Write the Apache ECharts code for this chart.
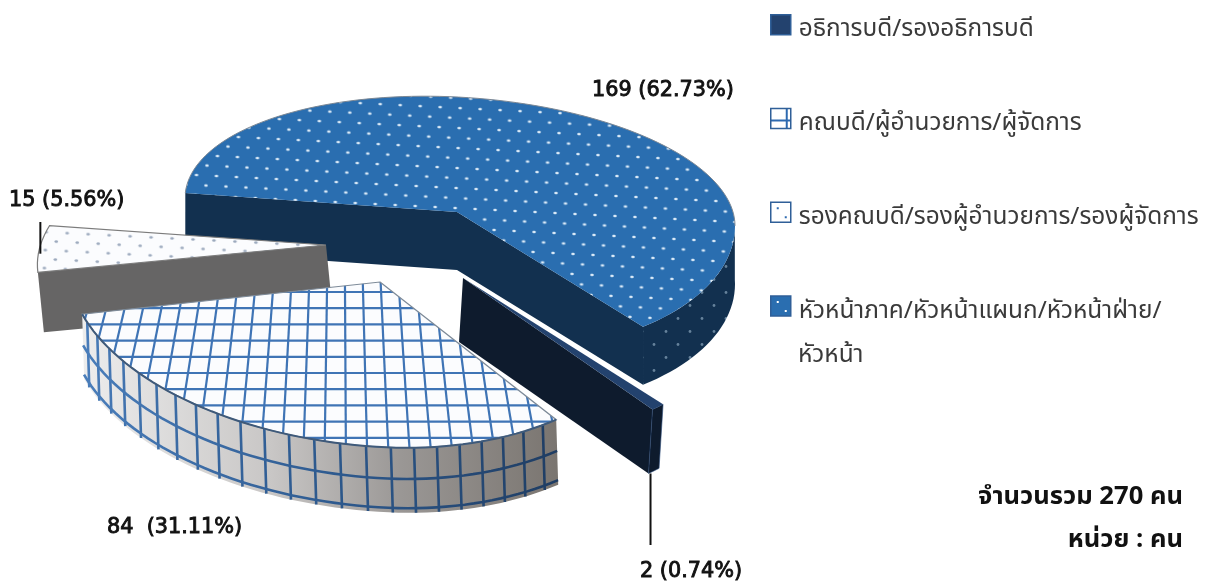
<!DOCTYPE html>
<html>
<head>
<meta charset="utf-8">
<style>
  html, body { margin: 0; padding: 0; background: #fff; }
  #chart { width: 1207px; height: 582px; }
</style>
<script src="https://cdn.jsdelivr.net/npm/echarts@6/dist/echarts.min.js"></script>
</head>
<body>
<div id="chart"></div>
<script>
const categories = ['อธิการบดี/รองอธิการบดี', 'คณบดี/ผู้อำนวยการ/ผู้จัดการ', 'รองคณบดี/รองผู้อำนวยการ/รองผู้จัดการ', 'หัวหน้าภาค/หัวหน้าแผนก/หัวหน้าฝ่าย/'];
const categoryExtraLine = 'หัวหน้า';
const values = [2, 84, 15, 169];
const percents = ['0.74', '31.11', '5.56', '62.73'];
const startAngle = 138;
const total = values.reduce((a, b) => a + b, 0);

const FONT = '"Noto Sans Thai","Noto Sans","Noto Sans CJK SC",sans-serif';
const LABEL_FONT = '20.8px "DejaVu Sans",sans-serif';

// each exploded slice was warped on its own in the picture, so each gets its own projection
const views = [
  { cx: 463, cy: 278, rxL: 299, rxR: 299, ryT: 170, ryB: 170, kx: 0, sh: 0, depth: 64, ddx: -4 },
  { cx: 380, cy: 282, rxL: 312, rxR: 278, ryT: 165, ryB: 165, kx: 0, sh: 0.057, depth: 65, ddx: 2 },
  { cx: 326, cy: 245, rxL: 280, rxR: 280, ryT: 137, ryB: 137, kx: -70, sh: 0.047, depth: 60, ddx: 6 },
  { cx: 457, cy: 212, rxL: 272, rxR: 278, ryT: 115, ryB: 142, kx: 0, sh: 0.05, depth: 58, ddx: 0 }
];

function dotTile(bg, dot, w, h, rx, ry) {
  const c = document.createElement('canvas');
  c.width = w; c.height = h;
  const g = c.getContext('2d');
  g.fillStyle = bg; g.fillRect(0, 0, w, h);
  g.fillStyle = dot;
  [[w / 4, h / 4], [w * 3 / 4, h * 3 / 4]].forEach(p => {
    g.beginPath(); g.ellipse(p[0], p[1], rx, ry, 0, 0, Math.PI * 2); g.fill();
  });
  return c;
}
function iconTile(bg, draw) {
  const c = document.createElement('canvas');
  c.width = 20; c.height = 20;
  const g = c.getContext('2d');
  g.fillStyle = bg; g.fillRect(0, 0, 20, 20);
  draw(g);
  return c;
}
const blueDots = { image: dotTile('#2a6eb0', '#dcebf8', 20, 20, 1.8, 1.2), repeat: 'repeat', rotation: 0.05 };
const wallDots = { image: dotTile('#12304f', '#66829b', 24, 26, 1.4, 1.4), repeat: 'repeat' };
const whiteDots = { image: dotTile('#fbfcfe', '#9aa8bc', 21, 18, 1.8, 1.2), repeat: 'repeat', rotation: 0.05 };

const legendIcons = [
  '#23426e',
  { image: iconTile('#fff', g => { g.fillStyle = '#2e6ab0'; g.fillRect(0, 11, 20, 2); g.fillRect(15, 0, 2, 20); }), repeat: 'no-repeat' },
  { image: iconTile('#fff', g => { g.fillStyle = '#2e6ab0'; g.fillRect(6, 5, 2, 2); g.fillRect(14, 14, 2, 2); }), repeat: 'no-repeat' },
  { image: iconTile('#2a6eb0', g => { g.fillStyle = '#fff'; g.fillRect(6, 5, 2, 2); g.fillRect(14, 14, 2, 2); }), repeat: 'no-repeat' }
];

// angle in degrees, clockwise from the back of the pie
function project(v, deg, down) {
  const a = deg * Math.PI / 180;
  const u = Math.sin(a), w = -Math.cos(a);
  const dx = (u < 0 ? v.rxL : v.rxR) * u + v.kx * w;
  const dy = (w < 0 ? v.ryT : v.ryB) * w + v.sh * dx;
  const d = down || 0;
  return [v.cx + dx + v.ddx * d, v.cy + dy + v.depth * d];
}
function arc(v, a1, a2, down) {
  const n = Math.max(2, Math.ceil(Math.abs(a2 - a1) / 2));
  const pts = [];
  for (let i = 0; i <= n; i++) pts.push(project(v, a1 + (a2 - a1) * i / n, down));
  return pts;
}
function poly(points, style) {
  return { type: 'polygon', shape: { points }, style };
}
function line(points, stroke, lineWidth) {
  return { type: 'polyline', shape: { points }, style: { stroke, lineWidth, fill: null }, silent: true };
}
function wallBetween(v, p, q) {
  const down = r => [r[0] + v.ddx, r[1] + v.depth];
  return [p, q, down(q), down(p)];
}
function labelEl(text, x, y) {
  return { type: 'text', style: { text, x, y, fill: '#111', stroke: '#111', lineWidth: 0.9, font: LABEL_FONT, textAlign: 'left', textVerticalAlign: 'middle' } };
}

const spans = [];
values.reduce((from, val) => {
  const to = from + val / total * 360;
  spans.push([from, to]);
  return to;
}, startAngle);

function sliceTop(v, a1, a2) {
  return [[v.cx, v.cy]].concat(arc(v, a1, a2));
}

function drawDark(i) {
  const v = views[i], [a1, a2] = spans[i];
  const apex = [v.cx, v.cy], end = project(v, a2);
  const dn = project(v, a2, 1);
  return [
    poly(wallBetween(v, apex, end), { fill: '#0e1b2d' }),
    poly(arc(v, a2, a1).concat(arc(v, a1, a2, 1)), { fill: '#0e1b2d', stroke: '#2a4a78', lineWidth: 0.6 }),
    poly(sliceTop(v, a1, a2), { fill: '#23426e' }),
    line([[dn[0] + 2, dn[1]], [dn[0] + 2, 545]], '#111', 2),
    labelEl(`${values[i]} (${percents[i]}%)`, 640, 572)
  ];
}

function drawGrid(i) {
  const v = views[i], [a1, a2] = spans[i];
  const top = sliceTop(v, a1, a2);
  const gridLines = [];
  const vx = 340, vy = -600;
  for (let y = 292; y < 470; y += 16.2) gridLines.push(line([[60, y], [580, y]], '#3f74b5', 2.2));
  for (let k = -20; k <= 16; k++) {
    const x0 = vx + k * 18 + 5;
    const at = y => vx + (x0 - vx) * (y - vy) / (290 - vy);
    gridLines.push(line([[at(270), 270], [at(470), 470]], '#3f74b5', 2.2));
  }
  const wall = arc(v, a2, a1).concat(arc(v, a1, a2, 1));
  const wallLines = [];
  const tint = t => echarts.color.lerp(t, ['#4a7ebb', '#2f5c92', '#1f3d63']);
  for (let a = a1 + 3.5; a < a2; a += 4.8) {
    wallLines.push(line([project(v, a), project(v, a, 1)], tint(1 - (a - a1) / (a2 - a1)), 2.6));
  }
  const strokeGrad = new echarts.graphic.LinearGradient(80, 0, 556, 0,
    [{ offset: 0, color: '#4a7ebb' }, { offset: 0.5, color: '#2f5c92' }, { offset: 1, color: '#1f3d63' }], true);
  [0.48, 0.93].forEach(f => wallLines.push(line(arc(v, a1, a2, f), strokeGrad, 2.6)));
  return [
    poly(wall, {
      fill: new echarts.graphic.LinearGradient(0, 0, 1, 0, [
        { offset: 0, color: '#ededed' }, { offset: 0.4, color: '#c8c6c5' },
        { offset: 0.67, color: '#9a9795' }, { offset: 1, color: '#7a7570' }])
    }),
    { type: 'group', children: wallLines },
    poly(top, { fill: '#fbfcfe' }),
    { type: 'group', children: gridLines, clipPath: { type: 'polygon', shape: { points: top } } },
    poly(top, { fill: 'none', stroke: '#7d8a98', lineWidth: 1.2 }),
    line(arc(v, a1, a2), '#3f5a7a', 2),
    labelEl(`${values[i]}  (${percents[i]}%)`, 107, 528)
  ];
}

function drawWhite(i) {
  const v = views[i], [a1, a2] = spans[i];
  const apex = [v.cx, v.cy], corner = project(v, a1);
  const lead = project(v, a1 + 8);
  return [
    poly(wallBetween(v, apex, corner), { fill: '#666565' }),
    poly(sliceTop(v, a1, a2), { fill: whiteDots, stroke: '#7c7c7c', lineWidth: 1.2 }),
    line([[lead[0] + 2, lead[1]], [lead[0] + 2, 222]], '#111', 2),
    labelEl(`${values[i]} (${percents[i]}%)`, 9, 201)
  ];
}

function drawBlue(i) {
  const v = views[i], [a1, a2] = spans[i];
  const apex = [v.cx, v.cy];
  const p1 = project(v, a1), p2 = project(v, a2);
  return [
    poly(wallBetween(v, p1, apex), { fill: '#12304f' }),
    poly(wallBetween(v, apex, p2), { fill: '#12304f' }),
    poly(arc(v, a2, 448).concat(arc(v, 448, a2, 1)), { fill: wallDots }),
    poly(sliceTop(v, a1, a2), { fill: blueDots }),
    line(arc(v, a1, 450), '#7b8794', 1),
    labelEl(`${values[i]} (${percents[i]}%)`, 592, 91)
  ];
}

const painters = [drawDark, drawGrid, drawWhite, drawBlue];
const layers = [4, 3, 2, 1];

const series = categories.map((name, i) => ({
  type: 'custom',
  name,
  coordinateSystem: 'none',
  z: layers[i],
  itemStyle: { color: typeof legendIcons[i] === 'string' ? legendIcons[i] : '#2a6eb0' },
  data: [values[i]],
  silent: true,
  renderItem: () => ({ type: 'group', children: painters[i](i) })
}));

const chart = echarts.init(document.getElementById('chart'), null, { renderer: 'canvas' });
chart.setOption({
  animation: false,
  backgroundColor: '#fff',
  textStyle: { fontFamily: FONT },
  legend: {
    orient: 'vertical',
    left: 765,
    top: 10,
    padding: [4, 5, 5, 5],
    icon: 'rect',
    itemWidth: 20,
    itemHeight: 20,
    itemGap: 64,
    selectedMode: false,
    formatter: name => `{a|${name}}`,
    textStyle: {
      padding: [0, 0, 0, 3],
      rich: { a: { fontSize: 24.4, color: '#3a3a3a', fontFamily: FONT, lineHeight: 38, verticalAlign: 'bottom' } }
    },
    data: categories.map((name, i) => ({
      name,
      itemStyle: { color: legendIcons[i], borderColor: '#2f5f98', borderWidth: 1.5 }
    }))
  },
  graphic: [
    { type: 'text', x: 798, y: 357, style: { text: categoryExtraLine, fill: '#3a3a3a', font: '24.4px ' + FONT, textVerticalAlign: 'middle' } },
    { type: 'text', x: 1183, y: 499, style: { text: `จำนวนรวม ${total} คน`, fill: '#111', font: 'bold 25.6px ' + FONT, textAlign: 'right', textVerticalAlign: 'middle' } },
    { type: 'text', x: 1183, y: 542, style: { text: 'หน่วย : คน', fill: '#111', font: 'bold 25.6px ' + FONT, textAlign: 'right', textVerticalAlign: 'middle' } }
  ],
  series
});
</script>
</body>
</html>
